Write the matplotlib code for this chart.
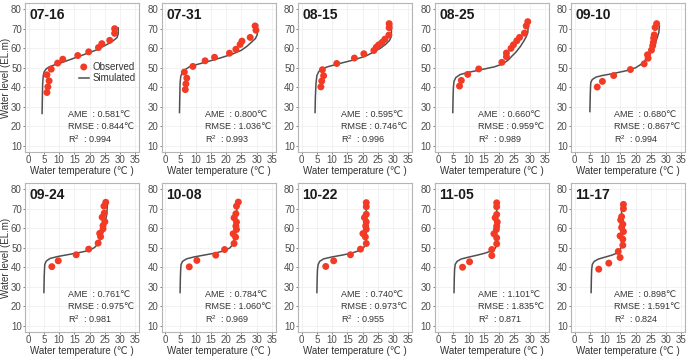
import numpy as np
import matplotlib
matplotlib.use('Agg')
import matplotlib.pyplot as plt

plt.rcParams['font.family'] = ['Liberation Sans', 'DejaVu Sans']

# dates of the profiles
dates = ['07-16', '07-31', '08-15', '08-25', '09-10',
         '09-24', '10-08', '10-22', '11-05', '11-17']

# error statistics (AME, RMSE, R2)
ame = ['0.581', '0.800', '0.595', '0.660', '0.680',
       '0.761', '0.784', '0.740', '1.101', '0.898']
rmse = ['0.844', '1.036', '0.746', '0.959', '0.867',
        '0.975', '1.060', '0.973', '1.835', '1.591']
r2 = ['0.994', '0.993', '0.996', '0.989', '0.994',
      '0.981', '0.969', '0.955', '0.871', '0.824']

# observed temperatures (C) and levels (EL.m)
obs_t = [
    [28.2, 28.2, 26.6, 24.0, 22.9, 19.7, 16.1, 11.2, 9.5, 7.4, 6.0, 6.7, 6.3, 6.0],
    [29.5, 29.8, 27.9, 25.2, 24.6, 23.2, 21.1, 16.2, 13.1, 9.1, 6.3, 7.1, 6.8, 6.6],
    [28.7, 28.7, 28.6, 27.3, 26.4, 25.3, 24.5, 23.7, 20.4, 17.3, 11.5, 6.8, 7.2, 6.6, 6.3],
    [29.4, 28.9, 28.3, 26.7, 25.8, 24.7, 23.9, 22.4, 22.4, 20.9, 13.3, 9.7, 7.6, 7.0],
    [26.9, 26.4, 26.1, 25.9, 25.8, 25.6, 25.2, 23.9, 24.1, 22.8, 18.3, 12.8, 9.1, 7.4],
    [25.3, 24.7, 24.8, 24.1, 25.0, 24.4, 24.4, 23.3, 23.6, 22.8, 19.7, 15.6, 9.7, 7.6],
    [24.0, 23.4, 23.2, 22.6, 23.4, 23.2, 23.4, 22.3, 23.1, 22.6, 19.5, 16.6, 10.4, 7.9],
    [21.2, 21.2, 21.2, 20.6, 21.2, 21.0, 21.2, 20.1, 20.9, 21.2, 19.3, 16.0, 10.5, 7.9],
    [19.2, 19.2, 19.2, 18.7, 19.4, 19.2, 19.1, 18.3, 19.2, 19.2, 17.6, 17.6, 10.3, 8.0],
    [16.0, 16.0, 15.4, 15.1, 15.8, 15.4, 16.0, 14.9, 15.8, 15.8, 14.3, 14.9, 11.2, 7.9],
]
obs_z = [
    [70.1, 67.7, 64.1, 62.4, 60.4, 58.2, 56.3, 54.4, 52.4, 49.3, 46.4, 43.3, 40.2, 37.3],
    [71.5, 69.3, 65.6, 63.7, 62.0, 59.5, 57.5, 55.4, 53.6, 50.7, 47.8, 44.7, 41.7, 38.8],
    [72.7, 70.6, 66.8, 64.7, 63.1, 61.8, 60.6, 58.9, 57.2, 55.0, 52.2, 49.0, 45.9, 43.2, 40.2],
    [73.7, 71.5, 67.8, 65.6, 63.9, 61.8, 60.0, 57.6, 55.7, 52.8, 49.4, 46.6, 43.5, 40.6],
    [72.7, 70.7, 66.9, 65.2, 63.0, 61.3, 59.1, 56.7, 54.9, 52.0, 49.1, 46.0, 43.0, 40.1],
    [73.4, 71.4, 67.8, 65.7, 63.4, 61.4, 59.7, 57.4, 55.7, 52.4, 49.3, 46.4, 43.3, 40.3],
    [73.5, 71.4, 67.5, 65.4, 63.2, 61.1, 59.4, 57.2, 55.5, 52.2, 49.1, 46.2, 43.5, 40.2],
    [73.2, 71.1, 67.2, 65.5, 63.3, 61.2, 59.5, 57.3, 55.6, 52.2, 49.3, 46.4, 43.3, 40.4],
    [73.1, 71.1, 67.1, 65.4, 63.2, 61.1, 59.4, 57.2, 55.1, 52.0, 49.1, 46.0, 42.8, 40.0],
    [72.3, 70.1, 66.0, 64.3, 62.1, 60.4, 58.3, 56.1, 54.4, 51.3, 48.1, 45.0, 42.1, 39.0],
]

# simulated profiles
sim_t = [
    [4.4, 4.5, 4.6, 4.8, 5.1, 5.8, 6.8, 8.5, 11.5, 15, 18.5, 22, 24.5, 26.3, 27.8, 29.0, 29.4, 29.4],
    [4.7, 4.8, 4.9, 5.1, 5.6, 6.5, 8.0, 10, 13.5, 18, 22, 25, 26.8, 28.2, 29.6, 30.2, 30.3],
    [4.4, 4.5, 4.7, 5.0, 5.6, 6.8, 8.5, 12, 17, 21, 23.5, 25.8, 27.5, 28.8, 29.4, 29.5],
    [4.8, 4.9, 5.0, 5.2, 5.8, 7.2, 9.5, 14, 18.5, 21.2, 23, 24.2, 25.5, 27, 28.2, 28.9, 29.4, 29.6],
    [5.0, 5.1, 5.2, 5.3, 5.8, 7.0, 9.0, 12.5, 17, 20, 22, 23.2, 24.2, 25.0, 25.6, 26.5, 27.2, 27.6, 27.8],
    [5.0, 5.1, 5.2, 5.3, 5.8, 7.0, 9.5, 13, 16.5, 19.5, 21.5, 22.8, 23.7, 24.4, 25.0, 25.6, 25.9],
    [4.9, 5.0, 5.1, 5.2, 5.7, 7.0, 9.5, 13, 16.5, 19.5, 21.3, 22.3, 22.8, 23.2, 23.4, 23.6],
    [5.0, 5.1, 5.2, 5.4, 5.9, 7.2, 10, 13.5, 16.5, 18.8, 20.3, 20.9, 21.1, 21.2, 21.2, 21.2],
    [5.2, 5.3, 5.4, 5.6, 6.2, 7.5, 10, 12.8, 15.3, 17.3, 18.6, 19.1, 19.2, 19.2, 19.2],
    [5.4, 5.5, 5.6, 5.8, 6.4, 7.8, 10, 12.2, 13.8, 14.8, 15.2, 15.4, 15.4, 15.4, 15.4],
]
sim_z = [
    [26.5, 35, 42, 46, 48, 49.5, 50.5, 51.5, 53, 55, 57, 59, 61, 62.5, 64, 65.5, 67.5, 70.5],
    [27, 35, 42, 45.5, 47.5, 49, 50.5, 51.5, 53, 55, 57, 59, 61, 63, 65, 67, 72],
    [27, 35, 42, 46, 48, 49.5, 50.5, 52, 54, 56, 58, 60, 62, 64, 66, 72],
    [27, 35, 40, 43, 45, 46.5, 47.5, 49, 50.5, 52, 54, 56, 58, 61, 64, 66, 68, 73],
    [27.5, 35, 40, 42.5, 44, 45.2, 46, 47, 48.5, 50, 52, 54, 56, 58, 60, 63, 66, 68, 71.5],
    [27, 35, 39, 41.5, 43.2, 44.5, 45.5, 46.5, 47.5, 48.5, 50, 52, 55, 58, 62, 67, 73.5],
    [27, 35, 39, 41.3, 43, 44.3, 45.3, 46.3, 47.3, 48.5, 50, 52, 55, 60, 65, 73],
    [27, 35, 39, 41.3, 43, 44.3, 45.3, 46.3, 47.3, 48.5, 50, 51.5, 53.5, 58, 65, 73],
    [27, 35, 39, 41.5, 43, 44.2, 45.2, 46.2, 47.2, 48.3, 49.5, 51, 55, 62, 72],
    [27, 35, 39, 41.5, 43, 44.2, 45.2, 46.2, 47.2, 48.5, 50, 52, 56, 64, 72],
]

W, H = 693, 357
fig = plt.figure(figsize=(W / 100, H / 100), dpi=100)

lefts = [25, 161.5, 298, 434.5, 571]
tops = [3, 183]
aw, ah = 114, 149

red = '#f23a25'
grey_line = '#505050'

for k in range(10):
    row, col = divmod(k, 5)
    x0 = lefts[col] / W
    y0 = 1 - (tops[row] + ah) / H
    ax = fig.add_axes([x0, y0, aw / W, ah / H])

    ax.plot(sim_t[k], sim_z[k], color=grey_line, lw=1.1, zorder=2, label='Simulated')
    ax.scatter(obs_t[k], obs_z[k], s=25, color=red, edgecolors='none', zorder=3, label='Observed')

    ax.set_xlim(-1.2, 36.2)
    ax.set_ylim(6.7, 83.3)
    ax.set_xticks(np.arange(0, 36, 5))
    ax.set_yticks(np.arange(10, 81, 10))
    ax.grid(True, color='#f0f0f0', lw=0.6, zorder=0)
    ax.set_axisbelow(True)
    for s in ax.spines.values():
        s.set_color('#b5b5b5')
        s.set_linewidth(0.8)
    ax.tick_params(labelsize=7, colors='#4d4d4d', length=1.5, width=0.5, pad=0.8)

    ax.set_xlabel('Water temperature (℃ )', fontsize=7, color='#333333', labelpad=0.5)
    if col == 0:
        ax.set_ylabel('Water level (EL.m)', fontsize=7, color='#333333', labelpad=0)

    ax.text(0.04, 0.965, dates[k], transform=ax.transAxes, ha='left', va='top',
            fontsize=10, fontweight='bold', color='#1a1a1a')

    ax.text(13, 26.2, 'AME  : ' + ame[k] + '℃', fontsize=6.5, color='#333333', va='center')
    ax.text(13, 19.8, 'RMSE : ' + rmse[k] + '℃', fontsize=6.5, color='#333333', va='center')
    ax.text(13, 13.3, r'R$^{\mathregular{2}}$  : ' + r2[k], fontsize=6.5, color='#333333', va='center')

    if k == 0:
        handles, labels = ax.get_legend_handles_labels()
        ax.legend(handles[::-1], labels[::-1], loc='upper left', bbox_to_anchor=(0.43, 0.64),
                  frameon=False, fontsize=7, handlelength=1.0, handletextpad=0.4,
                  labelspacing=0.15, borderpad=0, labelcolor='#333333')

fig.savefig('out.png', dpi=100)
